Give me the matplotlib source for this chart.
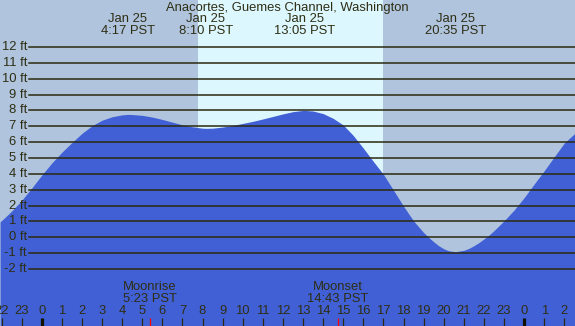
import matplotlib
matplotlib.use("Agg")
import matplotlib.pyplot as plt
import matplotlib.transforms as mtransforms

# ---------------- data ----------------
title = "Anacortes, Guemes Channel, Washington"

# tide height (ft), hours relative to midnight Jan 25
tide_hours = [-2.07, -2.0, -1.5, -1.0, -0.5, 0.0, 0.5, 1.0, 1.5, 2.0, 2.5, 3.0, 3.5,
              4.0, 4.28, 4.5, 5.0, 5.5, 6.0, 6.5, 7.0, 7.5, 8.0, 8.17, 8.5, 9.0,
              9.5, 10.0, 10.5, 11.0, 11.5, 12.0, 12.5, 13.0, 13.08, 13.5, 14.0,
              14.5, 15.0, 15.5, 16.0, 16.5, 17.0, 17.5, 18.0, 18.5, 19.0, 19.25,
              19.5, 19.75, 20.0, 20.25, 20.58, 21.0, 21.25, 21.5, 21.75, 22.0,
              22.25, 22.5, 23.0, 23.5, 24.0, 24.5, 25.0, 25.5, 26.0, 26.53]
tide_feet = [0.98, 1.05, 1.65, 2.32, 3.1, 3.92, 4.68, 5.36, 5.97, 6.55, 7.03, 7.38, 7.6,
             7.72, 7.75, 7.74, 7.69, 7.58, 7.43, 7.26, 7.09, 6.96, 6.88, 6.87, 6.88, 6.95,
             7.05, 7.18, 7.31, 7.46, 7.62, 7.78, 7.92, 8.0, 8.0, 7.96, 7.8,
             7.5, 7.08, 6.42, 5.62, 4.78, 3.97, 2.97, 1.96, 1.03, 0.3, 0.0,
             -0.28, -0.53, -0.72, -0.85, -0.91, -0.82, -0.7, -0.53, -0.33, -0.1,
             0.14, 0.42, 1.04, 1.72, 2.5, 3.36, 4.2, 5.08, 5.95, 6.56]

extreme_hours = [4.283, 8.167, 13.083, 20.583]
extreme_labels = ["4:17 PST", "8:10 PST", "13:05 PST", "20:35 PST"]
extreme_date = "Jan 25"

sunrise_hour = 7.76
sunset_hour = 17.0

moon_events = ["Moonrise", "Moonset"]
moon_hours = [5.383, 14.717]
moon_labels = ["5:23 PST", "14:43 PST"]

feet_levels = list(range(-2, 13))
hour_ticks = list(range(-2, 27))

# ---------------- style ----------------
W, H = 575, 326
night_col = "#B0C4DE"
day_col = "#DDF7FF"
water_col = "#4160D5"
line_col = "#2A2A0E"
text_col = "#2E2E14"
plt.rcParams["font.family"] = ["Liberation Sans", "DejaVu Sans"]
fs = 9.4

fig = plt.figure(figsize=(W / 100, H / 100), dpi=100)
ax = fig.add_axes([0, 0, 1, 1])
ax.set_xlim(-2.075, 26.53)
ax.set_ylim(-5.59, 14.96)
ax.axis("off")

ax.add_patch(plt.Rectangle((0, 0), 1, 1, transform=ax.transAxes,
                           facecolor=night_col, edgecolor="none", zorder=0))
ax.axvspan(sunrise_hour, sunset_hour, color=day_col, lw=0, zorder=1)

ax.fill_between(tide_hours, tide_feet, -10, color=water_col, lw=0, zorder=2)

ytr = mtransforms.blended_transform_factory(ax.transAxes, ax.transData)
for f in feet_levels:
    ax.axhline(f, xmin=29 / W, xmax=1, color=line_col, lw=1.1, zorder=3)
    ax.text(27 / W, f, f"{f} ft", transform=ytr,
            ha="right", va="center", fontsize=fs, color=text_col, zorder=4)

xtr = ax.get_xaxis_transform()
tick_top = 8.5 / H
for h in hour_ticks:
    lab = str(h % 24)
    ax.text(h, 1 - 311.5 / H, lab, transform=xtr, ha="center", va="center",
            fontsize=fs, color=text_col, zorder=4)
    if h % 24 == 0:
        ax.vlines(h, 0, tick_top, transform=xtr, color="#111100", lw=2.3, zorder=4)
    else:
        ax.vlines(h, 0, tick_top, transform=xtr, color=line_col, lw=0.9, zorder=4)

for name, mh, ml in zip(moon_events, moon_hours, moon_labels):
    ax.vlines(mh, 0, tick_top, transform=xtr, color="#FF0000", lw=0.9, zorder=5)
    ax.text(mh, 1 - 287.5 / H, name, transform=xtr, ha="center", va="center",
            fontsize=fs, color=text_col, zorder=4)
    ax.text(mh, 1 - 299.5 / H, ml, transform=xtr, ha="center", va="center",
            fontsize=fs, color=text_col, zorder=4)

ax.text(0.5, 1 - 7.5 / H, title, transform=ax.transAxes, ha="center", va="center",
        fontsize=fs, color=text_col, zorder=4)
for eh, el in zip(extreme_hours, extreme_labels):
    ax.text(eh, 1 - 19.5 / H, extreme_date, transform=xtr, ha="center", va="center",
            fontsize=fs, color=text_col, zorder=4)
    ax.text(eh, 1 - 31.5 / H, el, transform=xtr, ha="center", va="center",
            fontsize=fs, color=text_col, zorder=4)

fig.savefig("out.png", dpi=100)
